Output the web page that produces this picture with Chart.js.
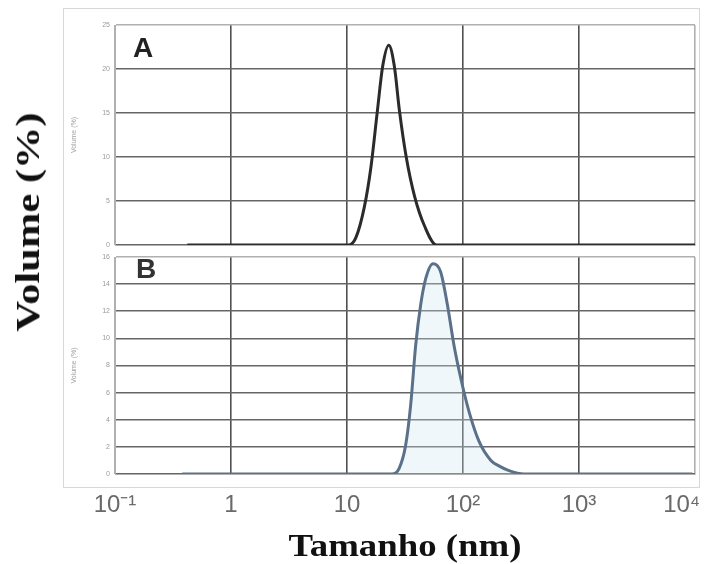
<!DOCTYPE html>
<html>
<head>
<meta charset="utf-8">
<script src="https://cdn.jsdelivr.net/npm/chart.js@4.4.1/dist/chart.umd.min.js"></script>
<style>
  html, body { margin: 0; padding: 0; background: #fff; }
  #wrap { position: relative; width: 712px; height: 564px; overflow: hidden; background: #fff; }
  .frame { position: absolute; left: 63px; top: 8px; width: 635px; height: 478px; border: 1px solid #d8d8d8; }
  #boxA { position: absolute; left: 0; top: 0; width: 712px; height: 250px; }
  #boxB { position: absolute; left: 0; top: 250px; width: 712px; height: 280px; }
  .panel { position: absolute; font-family: 'Liberation Sans', Arial, sans-serif; font-weight: bold; font-size: 28px; line-height: 28px; }
  .big { position: absolute; font-family: 'Liberation Serif', 'Times New Roman', serif; font-weight: bold; color: #111; white-space: nowrap; line-height: 1; }
</style>
</head>
<body>
<div id="wrap">
  <div class="frame"></div>
  <div id="boxA"><canvas id="chartA"></canvas></div>
  <div id="boxB"><canvas id="chartB"></canvas></div>
  <div class="panel" style="left:133px; top:34px; color:#222;">A</div>
  <div class="panel" style="left:136px; top:255px; color:#333;">B</div>
  <div class="big" style="left:28px; top:222px; font-size:34px; transform: translate(-50%, -50%) rotate(-90deg) scaleX(1.25);">Volume (%)</div>
  <div class="big" style="left:405px; top:545px; font-size:32px; transform: translate(-50%, -50%) scaleX(1.15);">Tamanho (nm)</div>
</div>
<script>
// x axis (log scale, nm)
const xTicks = [0.1, 1, 10, 100, 1000, 10000];
const xTickLabels = ['10⁻¹', '1', '10', '10²', '10³', '10⁴    '];

// panel A
const sizeA = [0.42, 10.4, 11.9, 14.1, 16.1, 18.3, 20.3, 22.9, 25.6, 28.3, 32.4, 38.3, 46.8, 59, 10000];
const volumeA = [0, 0, 0.8, 4.3, 8.9, 15.3, 20.3, 22.7, 20.3, 15.3, 10.0, 5.5, 2.1, 0, 0];
const yTicksA = [0, 5, 10, 15, 20, 25];

// panel B
const sizeB = [0.38, 24.4, 28.1, 32.0, 35.4, 39.1, 43.2, 47.7, 55.1, 64.2, 73.3, 83.6, 95.5, 112.7, 137.5, 174, 204, 249, 336, 9500];
const volumeB = [0, 0, 0.4, 2.1, 5.1, 9.5, 12.5, 14.4, 15.5, 14.9, 12.5, 9.5, 7.1, 4.6, 2.4, 1.0, 0.6, 0.25, 0, 0];
const yTicksB = [0, 2, 4, 6, 8, 10, 12, 14, 16];

const edgeGrey = '#b0b0b0';

function xScale(showLabels) {
    return {
        type: 'logarithmic',
        min: xTicks[0],
        max: xTicks[xTicks.length - 1],
        afterBuildTicks: (scale) => { scale.ticks = xTicks.map(v => ({ value: v })); },
        afterFit: (scale) => {
            scale.height = showLabels ? 50 : 0;
            scale.paddingLeft = 0;
            scale.paddingRight = 0;
        },
        border: { display: true, color: edgeGrey, width: 1 },
        grid: {
            drawTicks: false,
            lineWidth: 1.6,
            color: (ctx) => (ctx.tick && (ctx.tick.value === xTicks[0] || ctx.tick.value === xTicks[xTicks.length - 1])) ? edgeGrey : '#505050'
        },
        ticks: {
            display: showLabels,
            autoSkip: false,
            maxRotation: 0,
            padding: 17,
            color: '#6a6a6a',
            font: { family: "'Liberation Sans', Arial, sans-serif", size: 24 },
            callback: (value, index) => xTickLabels[index]
        }
    };
}

function yScale(ticks) {
    const max = ticks[ticks.length - 1];
    return {
        min: 0,
        max: max,
        afterBuildTicks: (scale) => { scale.ticks = ticks.map(v => ({ value: v })); },
        afterFit: (scale) => {
            scale.width = 45;
            scale.paddingTop = 0;
            scale.paddingBottom = 0;
        },
        border: { display: true, color: edgeGrey, width: 1 },
        grid: {
            drawTicks: false,
            lineWidth: 1.6,
            color: (ctx) => (ctx.tick && ctx.tick.value === max) ? edgeGrey : '#666'
        },
        ticks: {
            padding: 5,
            color: '#9a9a9a',
            font: { family: "'Liberation Sans', Arial, sans-serif", size: 7 }
        },
        title: {
            display: true,
            text: 'Volume (%)',
            color: '#a0a0a0',
            padding: 0,
            font: { family: "'Liberation Sans', Arial, sans-serif", size: 7 }
        }
    };
}

function makeChart(id, sizes, volumes, yTicks, color, fillColor, showX, padding) {
    return new Chart(document.getElementById(id).getContext('2d'), {
        type: 'line',
        data: {
            datasets: [{
                data: sizes.map((s, i) => ({ x: s, y: volumes[i] })),
                borderColor: color,
                borderWidth: 3,
                pointRadius: 0,
                cubicInterpolationMode: 'monotone',
                fill: fillColor ? 'origin' : false,
                backgroundColor: fillColor || 'transparent'
            }]
        },
        options: {
            responsive: true,
            maintainAspectRatio: false,
            animation: false,
            layout: { padding: padding },
            scales: {
                x: xScale(showX),
                y: yScale(yTicks)
            },
            plugins: {
                legend: { display: false },
                tooltip: { enabled: false }
            }
        }
    });
}

makeChart('chartA', sizeA, volumeA, yTicksA, '#2b2b2b', null, false,
    { left: 70, right: 17, top: 25, bottom: 5 });
makeChart('chartB', sizeB, volumeB, yTicksB, '#5a7189', 'rgba(205, 228, 242, 0.3)', true,
    { left: 70, right: 17, top: 7, bottom: 6 });
</script>
</body>
</html>
